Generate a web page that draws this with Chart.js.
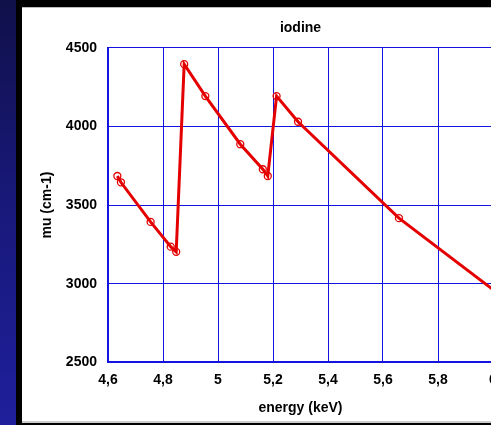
<!DOCTYPE html>
<html>
<head>
<meta charset="utf-8">
<script src="https://cdn.jsdelivr.net/npm/chart.js@4.4.1/dist/chart.umd.min.js"></script>
<style>
    html, body { margin: 0; padding: 0; width: 491px; height: 425px; overflow: hidden; }
    body { background: linear-gradient(to bottom, #10104a 0%, #181878 45%, #1f1f9c 100%); position: relative; }
    #frame { position: absolute; left: 16px; top: 0; width: 500px; height: 425px; background: #000; }
    #panel { position: absolute; left: 22px; top: 7px; width: 500px; height: 416px; background: #fff; border-top: 1px solid #bbb; border-bottom: 2px solid #ccc; box-sizing: border-box; }
    #wrap { position: absolute; left: 22px; top: 7px; width: 500px; height: 416px; }
</style>
</head>
<body>
<div id="frame"></div>
<div id="panel"></div>
<div id="wrap"><canvas id="chart"></canvas></div>
<script>
const energy = [4.634, 4.647, 4.755, 4.828, 4.848, 4.877, 4.954, 5.081, 5.163, 5.181, 5.213, 5.291, 5.658, 6.0];
const mu = [3685, 3645, 3393, 3236, 3203, 4396, 4193, 3887, 3728, 3685, 4193, 4030, 3417, 2963];
const xTicks = [4.6, 4.8, 5, 5.2, 5.4, 5.6, 5.8, 6];
const yTicks = [2500, 3000, 3500, 4000, 4500];

const blue = 'rgb(20,20,225)';
const red = 'rgb(228,0,0)';
const font = { family: '"Liberation Sans", Arial, sans-serif', size: 14, weight: 'bold' };

document.addEventListener("DOMContentLoaded", function () {
    const ctx = document.getElementById('chart').getContext('2d');
    new Chart(ctx, {
        type: 'line',
        data: {
            datasets: [{
                label: 'iodine',
                data: energy.map((e, i) => ({ x: e, y: mu[i] })),
                borderColor: red,
                borderWidth: 3,
                pointRadius: c => c.dataIndex === energy.length - 1 ? 0 : 3.5,
                pointBorderWidth: 1.3,
                pointBorderColor: red,
                pointBackgroundColor: 'rgba(255,255,255,0)',
                tension: 0
            }]
        },
        options: {
            responsive: true,
            maintainAspectRatio: false,
            animation: false,
            layout: { padding: { left: 0, right: 29, top: 0, bottom: 6 } },
            plugins: {
                legend: { display: false },
                tooltip: { enabled: false },
                title: {
                    display: true,
                    fullSize: false,
                    text: 'iodine',
                    color: '#000',
                    font: font,
                    padding: { top: 13, bottom: 11 }
                }
            },
            scales: {
                x: {
                    type: 'linear',
                    min: 4.6,
                    max: 6,
                    afterBuildTicks: s => { s.ticks = xTicks.map(v => ({ value: v })); },
                    ticks: {
                        color: '#000',
                        font: font,
                        padding: 9,
                        maxRotation: 0,
                        autoSkip: false,
                        callback: v => String(Math.round(v * 10) / 10).replace('.', ',')
                    },
                    grid: { color: blue, lineWidth: 1, drawTicks: false },
                    border: { color: blue, width: 2 },
                    title: { display: true, text: 'energy (keV)', color: '#000', font: font, padding: { top: 3, bottom: 0 } }
                },
                y: {
                    min: 2500,
                    max: 4500,
                    afterBuildTicks: s => { s.ticks = yTicks.map(v => ({ value: v })); },
                    afterFit: s => { s.width = 86; },
                    ticks: { color: '#000', font: font, padding: 11, callback: v => String(v) },
                    grid: { color: blue, lineWidth: 1, drawTicks: false },
                    border: { color: blue, width: 2 },
                    title: { display: true, text: 'mu (cm-1)', color: '#000', font: font, padding: { top: 17, bottom: 0 } }
                }
            }
        }
    });
});
</script>
</body>
</html>
